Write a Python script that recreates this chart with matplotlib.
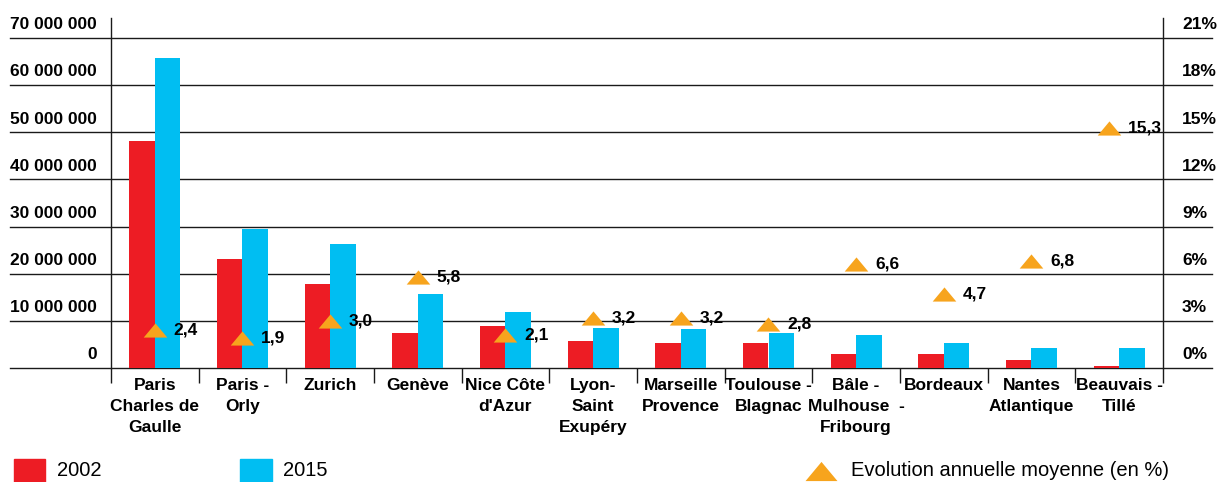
import matplotlib
matplotlib.use('Agg')
import matplotlib.pyplot as plt
from matplotlib.path import Path
from matplotlib.lines import Line2D
from matplotlib.patches import Rectangle

plt.rcParams['font.family'] = ['Liberation Sans', 'DejaVu Sans']

categories = ["Paris\nCharles de\nGaulle", "Paris -\nOrly", "Zurich", "Genève",
              "Nice Côte\nd'Azur", "Lyon-\nSaint\nExupéry", "Marseille\nProvence",
              "Toulouse -\nBlagnac", "Bâle -\nMulhouse  -\nFribourg", "Bordeaux",
              "Nantes\nAtlantique", "Beauvais -\nTillé"]
pax_2002 = [48.2e6, 23.1e6, 17.8e6, 7.4e6, 9.0e6, 5.7e6, 5.4e6, 5.2e6, 3.0e6, 3.0e6, 1.7e6, 0.5e6]
pax_2015 = [65.7e6, 29.5e6, 26.3e6, 15.7e6, 11.9e6, 8.5e6, 8.2e6, 7.5e6, 7.0e6, 5.3e6, 4.3e6, 4.3e6]
evolution = [2.4, 1.9, 3.0, 5.8, 2.1, 3.2, 3.2, 2.8, 6.6, 4.7, 6.8, 15.3]
evolution_labels = ["2,4", "1,9", "3,0", "5,8", "2,1", "3,2", "3,2", "2,8", "6,6", "4,7", "6,8", "15,3"]
left_ticks = [0, 10e6, 20e6, 30e6, 40e6, 50e6, 60e6, 70e6]
left_labels = ["0", "10 000 000", "20 000 000", "30 000 000", "40 000 000",
               "50 000 000", "60 000 000", "70 000 000"]
right_ticks = [0, 3, 6, 9, 12, 15, 18, 21]
right_labels = ["0%", "3%", "6%", "9%", "12%", "15%", "18%", "21%"]
series_names = ["2002", "2015", "Evolution annuelle moyenne (en %)"]

RED = '#ED1C24'
BLUE = '#00BEF2'
ORANGE = '#F7A41D'
LINE = '#1a1a1a'

W, H = 1217, 482
fig = plt.figure(figsize=(W / 100, H / 100), dpi=100)
ax_l, ax_r, ax_b, ax_t = 111, 1163, 368, 18
ax = fig.add_axes([ax_l / W, 1 - ax_b / H, (ax_r - ax_l) / W, (ax_b - ax_t) / H])
ymax = 70e6 * (ax_b - ax_t) / (ax_b - 38)
ax.set_ylim(0, ymax)
n = len(categories)
ax.set_xlim(-0.5, n - 0.5)

xs = list(range(n))
bw = 0.29
ax.bar([x - bw / 2 for x in xs], pax_2002, width=bw, color=RED, zorder=2)
ax.bar([x + bw / 2 for x in xs], pax_2015, width=bw, color=BLUE, zorder=2)

# grid lines extending beyond axes
ytr = ax.get_yaxis_transform()
x0 = (10 - ax_l) / (ax_r - ax_l)
x1 = (1212 - ax_l) / (ax_r - ax_l)
for t in left_ticks:
    ax.plot([x0, x1], [t, t], transform=ytr, color=LINE, lw=1.0, clip_on=False, zorder=1)

for s in ['top', 'bottom']:
    ax.spines[s].set_visible(False)
for s in ['left', 'right']:
    ax.spines[s].set_color(LINE)
    ax.spines[s].set_linewidth(1.0)

ax.set_yticks([])
# left tick labels above grid lines
for t, lab in zip(left_ticks, left_labels):
    ax.annotate(lab, xy=((97 - ax_l) / (ax_r - ax_l), t), xycoords=ytr,
                xytext=(0, 9.5), textcoords='offset points', ha='right', va='center',
                fontsize=12.5, fontweight='bold', color='black', annotation_clip=False)

# x ticks: boundaries (major), labels at centers (minor)
ax.set_xticks([x - 0.5 for x in range(n + 1)])
ax.set_xticklabels([])
ax.tick_params(axis='x', which='major', length=10.5, width=1.0, color=LINE, direction='out')
ax.set_xticks(xs, minor=True)
ax.set_xticklabels(categories, minor=True, fontsize=12.5, fontweight='bold', linespacing=1.5)
ax.tick_params(axis='x', which='minor', length=0, pad=7.5)

# right axis
ax2 = ax.twinx()
ax2.set_ylim(0, 21 * (ax_b - ax_t) / (ax_b - 38))
ax2.set_yticks([])
for s in ax2.spines.values():
    s.set_visible(False)
ytr2 = ax2.get_yaxis_transform()
for t, lab in zip(right_ticks, right_labels):
    ax2.annotate(lab, xy=((1182 - ax_l) / (ax_r - ax_l), t), xycoords=ytr2,
                 xytext=(0, 9.5), textcoords='offset points', ha='left', va='center',
                 fontsize=12.5, fontweight='bold', color='black', annotation_clip=False)

tri = Path([(-1, -0.6), (1, -0.6), (0, 0.6), (-1, -0.6)],
           [Path.MOVETO, Path.LINETO, Path.LINETO, Path.CLOSEPOLY])
shift = [0] * (n - 1) + [-0.12]
mx = [x + s for x, s in zip(xs, shift)]
ax2.plot(mx, evolution, linestyle='none', marker=tri, markersize=17,
         color=ORANGE, markeredgewidth=0, zorder=4)
for x, v, lab in zip(mx, evolution, evolution_labels):
    ax2.annotate(lab, xy=(x, v), xytext=(13.5, 0), textcoords='offset points',
                 ha='left', va='center', fontsize=12.5, fontweight='bold', color='black')

# legend
def frect(x, y, w, h, c):
    fig.add_artist(Rectangle((x / W, 1 - (y + h) / H), w / W, h / H, color=c,
                             transform=fig.transFigure))

frect(14, 459, 31, 23, RED)
fig.text(57 / W, 1 - 471 / H, series_names[0], fontsize=14.5, va='center', ha='left')
frect(240, 459, 32, 23, BLUE)
fig.text(283 / W, 1 - 471 / H, series_names[1], fontsize=14.5, va='center', ha='left')
fig.add_artist(Line2D([821 / W], [1 - 471 / H], marker=tri, markersize=23, color=ORANGE,
                      markeredgewidth=0, linestyle='none', transform=fig.transFigure))
fig.text(851 / W, 1 - 471 / H, series_names[2], fontsize=14.5, va='center', ha='left')

fig.savefig('out.png', dpi=100)
